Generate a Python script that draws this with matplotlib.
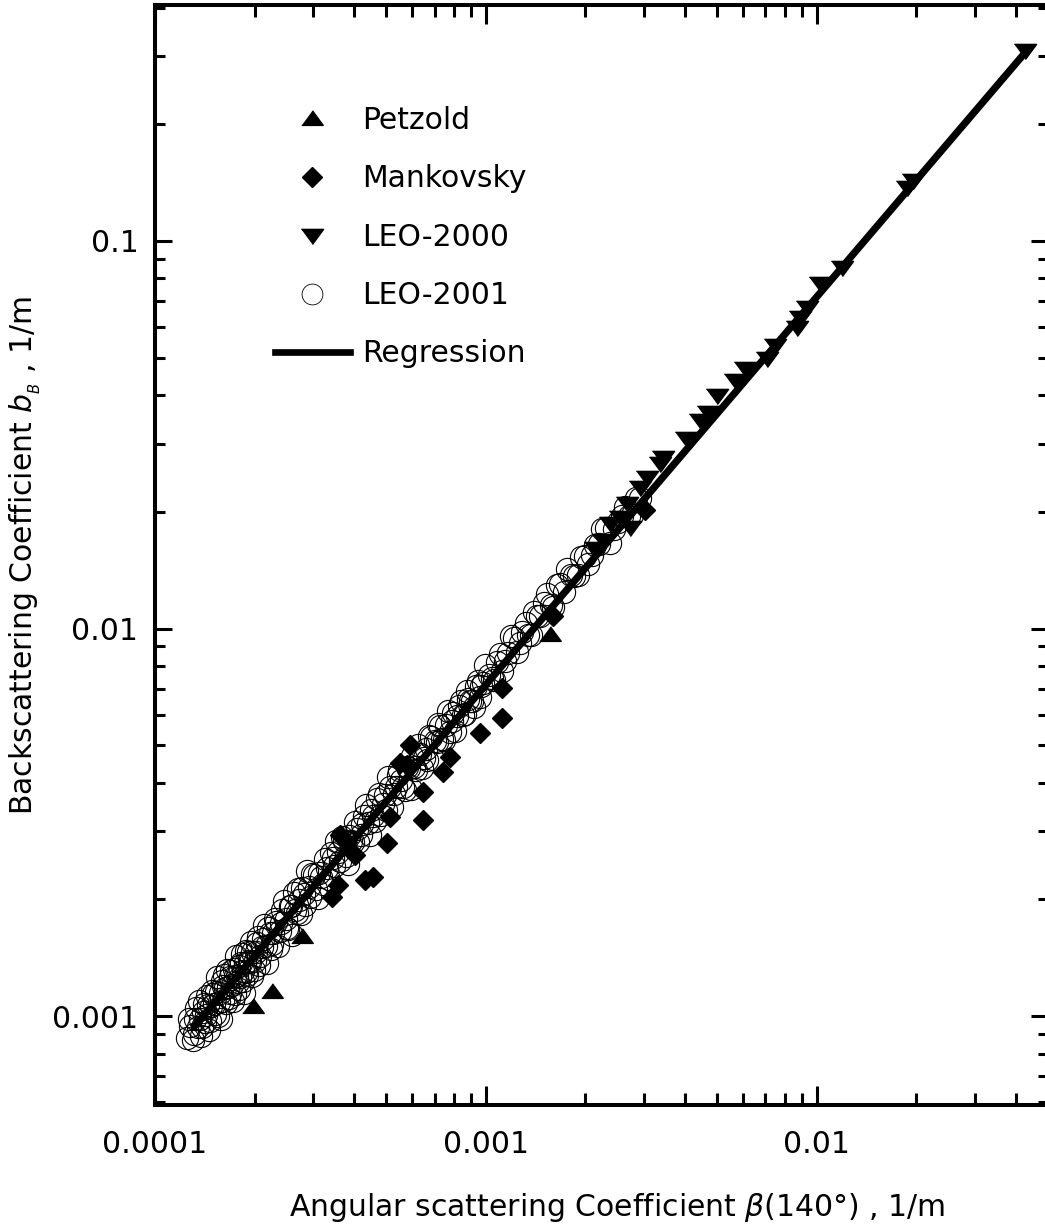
import matplotlib
matplotlib.use("Agg")
import matplotlib.pyplot as plt
from matplotlib import ticker
from matplotlib.lines import Line2D

plt.rcParams['font.family'] = ['DejaVu Sans']
plt.rcParams['mathtext.fontset'] = 'custom'
plt.rcParams['mathtext.rm'] = 'DejaVu Sans'
plt.rcParams['mathtext.it'] = 'DejaVu Sans:italic'

# ---------------- data ----------------
petzold_x = [1.98e-4, 2.26e-4, 2.78e-4, 1.56e-3]
petzold_y = [1.055e-3, 1.153e-3, 1.60e-3, 9.62e-3]

mank_x = [1.59e-3, 1.12e-3, 1.12e-3, 9.6e-4, 7.78e-4, 7.41e-4, 6.45e-4, 6.45e-4,
          5.50e-4, 5.13e-4, 5.02e-4, 4.56e-4, 4.31e-4, 3.80e-4, 3.43e-4, 3.57e-4,
          5.89e-4, 5.77e-4, 4.02e-4, 3.62e-4, 3.02e-3]
mank_y = [1.08e-2, 7.02e-3, 5.87e-3, 5.37e-3, 4.66e-3, 4.27e-3, 3.79e-3, 3.21e-3,
          4.50e-3, 3.27e-3, 2.79e-3, 2.29e-3, 2.24e-3, 2.81e-3, 2.03e-3, 2.18e-3,
          5.0e-3, 4.45e-3, 2.60e-3, 2.93e-3, 2.02e-2]

leo2000_x = [0.0425, 0.0195, 0.0187, 0.0119, 0.01021, 0.00933, 0.00888, 0.00870,
             0.00746, 0.00707, 0.00605, 0.00565, 0.00499, 0.00469, 0.00443, 0.00404,
             0.00343, 0.00336, 0.00306, 0.00292, 0.00267, 0.00254, 0.00237, 0.00226,
             0.00272, 0.00213]
leo2000_y = [0.311, 0.1435, 0.1377, 0.0857, 0.0779, 0.0676, 0.0637, 0.0600,
             0.0539, 0.0499, 0.0470, 0.0438, 0.0401, 0.0362, 0.0345, 0.0310,
             0.0277, 0.0267, 0.0246, 0.0232, 0.0211, 0.0194, 0.0187, 0.0169,
             0.0183, 0.0161]

leo2001_x = [
    1.25e-4, 1.27e-4, 1.30e-4, 1.32e-4, 1.35e-4, 1.36e-4, 1.38e-4, 1.40e-4, 1.42e-4, 1.44e-4,
    1.46e-4, 1.48e-4, 1.50e-4, 1.52e-4, 1.54e-4, 1.56e-4, 1.58e-4, 1.60e-4, 1.62e-4, 1.64e-4,
    1.66e-4, 1.68e-4, 1.70e-4, 1.72e-4, 1.74e-4, 1.76e-4, 1.78e-4, 1.80e-4, 1.82e-4, 1.84e-4,
    1.86e-4, 1.88e-4, 1.90e-4, 1.92e-4, 1.95e-4, 1.97e-4, 2.00e-4,
    2.03e-4, 2.06e-4, 2.10e-4, 2.14e-4, 2.18e-4, 2.22e-4, 2.26e-4, 2.30e-4, 2.35e-4, 2.40e-4,
    2.45e-4, 2.50e-4, 2.55e-4, 2.60e-4, 2.65e-4, 2.70e-4, 2.76e-4, 2.82e-4, 2.88e-4, 2.95e-4,
    3.02e-4, 3.10e-4, 3.18e-4, 3.26e-4, 3.35e-4, 3.44e-4, 3.53e-4, 3.62e-4, 3.72e-4, 3.82e-4,
    3.92e-4,
    4.02e-4, 4.12e-4, 4.23e-4, 4.34e-4, 4.45e-4, 4.57e-4, 4.69e-4, 4.81e-4, 4.94e-4, 5.07e-4,
    5.20e-4, 5.34e-4, 5.48e-4, 5.62e-4, 5.77e-4, 5.92e-4, 6.08e-4, 6.24e-4, 6.40e-4, 6.57e-4,
    6.74e-4, 6.92e-4, 7.10e-4, 7.29e-4, 7.48e-4, 7.68e-4, 7.88e-4, 8.09e-4, 8.30e-4, 8.52e-4,
    8.74e-4, 8.97e-4, 9.21e-4, 9.45e-4, 9.70e-4, 9.95e-4,
    1.02e-3, 1.06e-3, 1.10e-3, 1.14e-3, 1.19e-3, 1.24e-3, 1.29e-3, 1.34e-3, 1.40e-3, 1.46e-3,
    1.53e-3, 1.60e-3, 1.68e-3, 1.76e-3, 1.85e-3, 1.94e-3, 2.04e-3, 2.14e-3, 2.25e-3, 2.37e-3,
    2.50e-3, 2.63e-3, 2.77e-3, 2.92e-3,
    # second group of readings
    1.28e-4, 1.31e-4, 1.33e-4, 1.37e-4, 1.39e-4, 1.41e-4, 1.43e-4, 1.45e-4, 1.47e-4, 1.49e-4,
    1.51e-4, 1.53e-4, 1.55e-4, 1.57e-4, 1.59e-4, 1.61e-4, 1.63e-4, 1.65e-4, 1.67e-4, 1.69e-4,
    1.71e-4, 1.73e-4, 1.75e-4, 1.77e-4, 1.79e-4, 1.81e-4, 1.83e-4, 1.85e-4, 1.87e-4, 1.89e-4,
    1.91e-4, 1.94e-4, 1.96e-4, 1.99e-4,
    2.02e-4, 2.05e-4, 2.08e-4, 2.12e-4, 2.16e-4, 2.20e-4, 2.24e-4, 2.28e-4, 2.32e-4, 2.38e-4,
    2.42e-4, 2.48e-4, 2.52e-4, 2.58e-4, 2.63e-4, 2.68e-4, 2.73e-4, 2.79e-4, 2.85e-4, 2.92e-4,
    2.98e-4, 3.06e-4, 3.14e-4, 3.22e-4, 3.30e-4, 3.40e-4, 3.48e-4, 3.58e-4, 3.67e-4, 3.77e-4,
    3.87e-4, 3.97e-4,
    4.07e-4, 4.18e-4, 4.29e-4, 4.40e-4, 4.51e-4, 4.63e-4, 4.75e-4, 4.88e-4, 5.00e-4, 5.14e-4,
    5.27e-4, 5.41e-4, 5.55e-4, 5.70e-4, 5.85e-4, 6.00e-4, 6.16e-4, 6.32e-4, 6.48e-4, 6.65e-4,
    6.83e-4, 7.01e-4, 7.19e-4, 7.38e-4, 7.58e-4, 7.78e-4, 7.98e-4, 8.20e-4, 8.41e-4, 8.63e-4,
    8.85e-4, 9.09e-4, 9.33e-4, 9.58e-4, 9.82e-4,
    1.04e-3, 1.08e-3, 1.12e-3, 1.17e-3, 1.22e-3, 1.27e-3, 1.32e-3, 1.37e-3, 1.43e-3, 1.50e-3,
    1.57e-3, 1.64e-3, 1.72e-3, 1.81e-3, 1.90e-3, 1.99e-3, 2.09e-3, 2.20e-3, 2.31e-3, 2.44e-3,
    2.57e-3, 2.70e-3, 2.85e-3]
leo2001_y = [
    8.78e-4, 9.84e-4, 8.67e-4, 9.84e-4, 9.39e-4, 1.092e-3, 8.90e-4, 1.024e-3, 9.67e-4, 1.125e-3,
    9.21e-4, 1.061e-3, 1.140e-3, 1.014e-3, 1.259e-3, 1.085e-3, 9.86e-4, 1.193e-3, 1.278e-3, 1.082e-3,
    1.190e-3, 1.145e-3, 1.304e-3, 1.097e-3, 1.273e-3, 1.426e-3, 1.225e-3, 1.175e-3, 1.370e-3, 1.306e-3,
    1.147e-3, 1.469e-3, 1.280e-3, 1.391e-3, 1.552e-3, 1.271e-3, 1.391e-3,
    1.543e-3, 1.359e-3, 1.506e-3, 1.718e-3, 1.375e-3, 1.640e-3, 1.539e-3, 1.781e-3, 1.517e-3, 1.738e-3,
    1.985e-3, 1.685e-3, 1.919e-3, 1.622e-3, 1.881e-3, 2.130e-3, 1.840e-3, 2.062e-3, 2.375e-3, 2.030e-3,
    2.317e-3, 2.023e-3, 2.280e-3, 2.547e-3, 2.258e-3, 2.565e-3, 2.835e-3, 2.518e-3, 2.827e-3, 2.465e-3,
    2.839e-3,
    3.170e-3, 2.806e-3, 3.124e-3, 3.516e-3, 2.935e-3, 3.277e-3, 3.632e-3, 3.311e-3, 3.719e-3, 4.144e-3,
    3.467e-3, 3.905e-3, 4.322e-3, 3.909e-3, 4.385e-3, 3.863e-3, 4.403e-3, 5.011e-3, 4.360e-3, 4.899e-3,
    5.268e-3, 4.614e-3, 5.091e-3, 5.593e-3, 5.149e-3, 6.112e-3, 5.763e-3, 5.453e-3, 6.308e-3, 5.987e-3,
    6.893e-3, 6.496e-3, 6.273e-3, 7.318e-3, 7.094e-3, 8.062e-3,
    7.61e-3, 7.37e-3, 8.60e-3, 8.26e-3, 9.56e-3, 8.71e-3, 9.80e-3, 9.61e-3, 1.104e-2, 1.078e-2,
    1.229e-2, 1.136e-2, 1.301e-2, 1.426e-2, 1.366e-2, 1.530e-2, 1.463e-2, 1.641e-2, 1.807e-2, 1.665e-2,
    1.882e-2, 2.055e-2, 1.966e-2, 2.177e-2,
    # second group of readings
    9.45e-4, 9.02e-4, 1.049e-3, 9.82e-4, 9.37e-4, 1.072e-3, 1.005e-3, 1.071e-3, 9.70e-4, 1.164e-3,
    1.072e-3, 1.152e-3, 1.000e-3, 1.148e-3, 1.231e-3, 1.096e-3, 1.181e-3, 1.313e-3, 1.113e-3, 1.260e-3,
    1.201e-3, 1.327e-3, 1.142e-3, 1.269e-3, 1.347e-3, 1.259e-3, 1.443e-3, 1.233e-3, 1.368e-3, 1.301e-3,
    1.465e-3, 1.377e-3, 1.461e-3, 1.313e-3,
    1.463e-3, 1.602e-3, 1.431e-3, 1.581e-3, 1.518e-3, 1.688e-3, 1.494e-3, 1.635e-3, 1.747e-3, 1.655e-3,
    1.874e-3, 1.778e-3, 1.680e-3, 1.924e-3, 2.074e-3, 1.845e-3, 1.997e-3, 2.140e-3, 1.941e-3, 2.157e-3,
    2.329e-3, 2.128e-3, 2.341e-3, 2.193e-3, 2.413e-3, 2.633e-3, 2.445e-3, 2.644e-3, 2.894e-3, 2.595e-3,
    2.914e-3, 2.818e-3,
    3.035e-3, 2.937e-3, 3.291e-3, 3.155e-3, 3.395e-3, 3.187e-3, 3.746e-3, 3.534e-3, 3.406e-3, 3.906e-3,
    3.741e-3, 4.189e-3, 4.059e-3, 3.842e-3, 4.362e-3, 4.689e-3, 4.328e-3, 4.758e-3, 4.646e-3, 4.577e-3,
    5.240e-3, 5.127e-3, 5.671e-3, 5.186e-3, 5.652e-3, 5.411e-3, 6.065e-3, 5.938e-3, 6.512e-3, 6.002e-3,
    6.599e-3, 6.518e-3, 7.091e-3, 6.663e-3, 7.252e-3,
    7.46e-3, 8.21e-3, 7.79e-3, 8.64e-3, 9.45e-3, 9.20e-3, 1.031e-2, 9.63e-3, 1.077e-2, 1.162e-2,
    1.148e-2, 1.294e-2, 1.246e-2, 1.376e-2, 1.376e-2, 1.541e-2, 1.544e-2, 1.656e-2, 1.822e-2, 1.802e-2,
    1.953e-2, 1.955e-2, 2.166e-2]

reg_x = [1.30e-4, 4.25e-2]
reg_y = [9.30e-4, 3.05e-1]

x_major = [1e-4, 1e-3, 1e-2]
y_major = [1e-3, 1e-2, 1e-1]

# ---------------- figure ----------------
W, H = 1045, 1232
fig = plt.figure(figsize=(W / 100, H / 100), dpi=100)
ax = fig.add_axes([155 / W, (H - 1105) / H, (1048 - 155) / W, 1100 / H])

up_tri = [(-1, -0.55), (1, -0.55), (0, 0.81)]
down_tri = [(-1, 0.55), (1, 0.55), (0, -0.81)]

ax.plot(leo2001_x, leo2001_y, linestyle='none', marker='o', ms=16,
        mfc='none', mec='black', mew=0.8, zorder=2)
ax.plot(reg_x, reg_y, color='black', lw=5.2, solid_capstyle='butt', zorder=3)
ax.plot(mank_x, mank_y, linestyle='none', marker='D', ms=10, color='black', zorder=4)
ax.plot(petzold_x, petzold_y, linestyle='none', marker=up_tri, ms=15.5, color='black', zorder=4)
ax.plot(leo2000_x, leo2000_y, linestyle='none', marker=down_tri, ms=16, color='black', zorder=4)

ax.set_xscale('log')
ax.set_yscale('log')
ax.set_xlim(1e-4, 0.05)
ax.set_ylim(5.9e-4, 0.406)

for s in ax.spines.values():
    s.set_linewidth(2.9)

ax.xaxis.set_major_locator(ticker.FixedLocator(x_major))
ax.yaxis.set_major_locator(ticker.FixedLocator(y_major))
ax.xaxis.set_minor_locator(ticker.LogLocator(base=10, subs=range(2, 10), numticks=20))
ax.yaxis.set_minor_locator(ticker.LogLocator(base=10, subs=range(2, 10), numticks=20))
fmt = ticker.FuncFormatter(lambda v, p: f'{v:g}')
ax.xaxis.set_major_formatter(fmt)
ax.yaxis.set_major_formatter(fmt)
ax.xaxis.set_minor_formatter(ticker.NullFormatter())
ax.yaxis.set_minor_formatter(ticker.NullFormatter())

ax.tick_params(which='both', direction='in', top=True, right=True, width=2.2, labelsize=21.5)
ax.tick_params(axis='x', which='major', length=14, pad=18)
ax.tick_params(axis='x', which='minor', length=8.5)
ax.tick_params(axis='y', which='major', length=12.5, pad=12)
ax.tick_params(axis='y', which='minor', length=7.5)

ax.set_xlabel(r'Angular scattering Coefficient $\mathit{β(140°)}$ , 1/m', fontsize=21.5)
ax.set_ylabel(r'Backscattering Coefficient $b_{_B}$ , 1/m', fontsize=21.5)
ax.xaxis.set_label_coords(0.517, -0.078)
ax.yaxis.set_label_coords(-0.125, 0.5)

handles = [
    Line2D([], [], linestyle='none', marker=up_tri, ms=15.5, color='black'),
    Line2D([], [], linestyle='none', marker='D', ms=10, color='black'),
    Line2D([], [], linestyle='none', marker=down_tri, ms=16, color='black'),
    Line2D([], [], linestyle='none', marker='o', ms=15, mfc='none', mec='black', mew=0.6),
    Line2D([], [], color='black', lw=4.8),
]
labels = ['Petzold', 'Mankovsky', 'LEO-2000', 'LEO-2001', 'Regression']
ax.legend(handles, labels, loc='upper left', bbox_to_anchor=(0.1345, 0.908),
          frameon=False, fontsize=21.5, handlelength=2.5, handletextpad=0.4,
          labelspacing=0.98, borderpad=0, borderaxespad=0)

fig.savefig('out.png', dpi=100)
